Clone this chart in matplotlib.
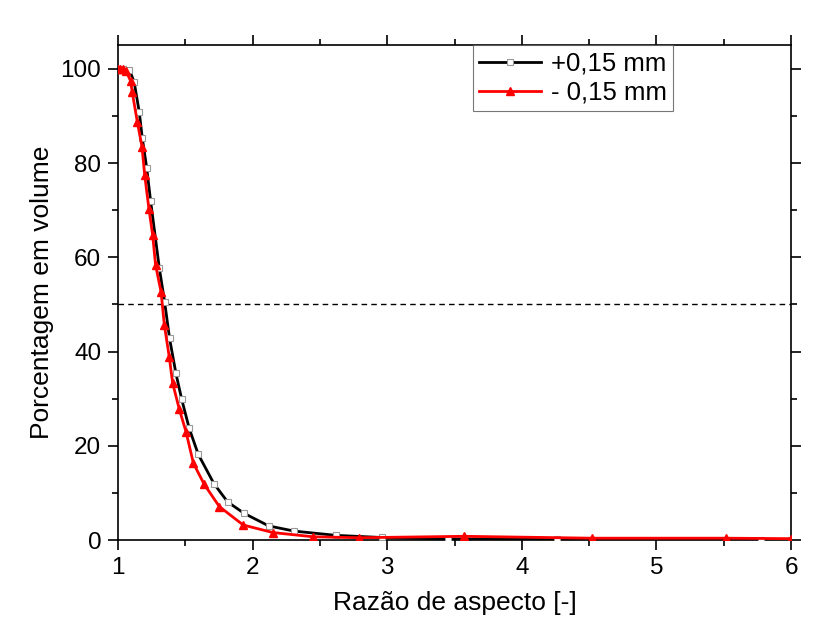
import numpy as np
import matplotlib.pyplot as plt
from matplotlib.ticker import MultipleLocator

# +0,15 mm series
xPlus = [1.0, 1.04, 1.084, 1.12, 1.158, 1.18, 1.213, 1.242, 1.307, 1.346, 1.383, 1.43, 1.473,
         1.529, 1.596, 1.712, 1.814, 1.937, 2.12, 2.31, 2.62, 2.96, 3.45, 4.26, 5.78, 6.0]
yPlus = [100, 100, 99.8, 97.2, 90.8, 85.4, 79.0, 72.0, 57.7, 50.6, 42.8, 35.4, 29.9,
         23.7, 18.2, 12.0, 8.1, 5.67, 3.0, 1.9, 1.0, 0.55, 0.25, 0.15, 0.1, 0.1]

# -0,15 mm series
xMinus = [1.0, 1.015, 1.04, 1.06, 1.094, 1.106, 1.143, 1.178, 1.198, 1.23, 1.257, 1.279, 1.32,
          1.344, 1.381, 1.406, 1.455, 1.505, 1.56, 1.641, 1.753, 1.93, 2.15, 2.45, 2.79,
          3.57, 4.52, 5.52, 6.0]
yMinus = [100, 100, 100, 99.5, 97.4, 95.0, 88.8, 83.5, 77.5, 70.2, 64.8, 58.4, 52.6,
          45.7, 38.8, 33.3, 27.8, 23.0, 16.3, 11.8, 7.1, 3.2, 1.6, 0.7, 0.5,
          0.8, 0.4, 0.4, 0.3]

plt.rcParams['font.family'] = ['Liberation Sans', 'DejaVu Sans']

fig = plt.figure(figsize=(8.31, 6.28), dpi=100)
ax = fig.add_axes([0.142, 0.140, 0.810, 0.788])

ax.axhline(50, color='black', lw=1.0, ls=(0, (4, 3)), zorder=1)

ax.plot(xPlus, yPlus, color='black', lw=2, marker='s', ms=4.5,
        mfc='white', mec='#999999', mew=0.8, label='+0,15 mm', zorder=3)
ax.plot(xMinus, yMinus, color='red', lw=2, marker='^', ms=5.5,
        mfc='red', mec='red', label='- 0,15 mm', zorder=4)

ax.set_xlim(1, 6)
ax.set_ylim(0, 105)
ax.xaxis.set_major_locator(MultipleLocator(1))
ax.xaxis.set_minor_locator(MultipleLocator(0.5))
ax.yaxis.set_major_locator(MultipleLocator(20))
ax.yaxis.set_minor_locator(MultipleLocator(10))
ax.tick_params(which='both', direction='out', top=True, right=True, width=1.2,
               labelsize=17.5, pad=5)
ax.tick_params(which='major', length=7)
ax.tick_params(which='minor', length=4)
for s in ax.spines.values():
    s.set_linewidth(1.2)

ax.set_xlabel('Razão de aspecto [-]', fontsize=19, labelpad=9)
ax.set_ylabel('Porcentagem em volume', fontsize=19, labelpad=5)

leg = ax.legend(loc='upper right', bbox_to_anchor=(0.825, 1.0), fontsize=18.5,
                frameon=True, fancybox=False, edgecolor='#555555',
                handlelength=2.4, borderpad=0.25, labelspacing=0.2, handletextpad=0.4,
                borderaxespad=0)
leg.get_frame().set_linewidth(0.8)

fig.savefig('out.png', dpi=100)
